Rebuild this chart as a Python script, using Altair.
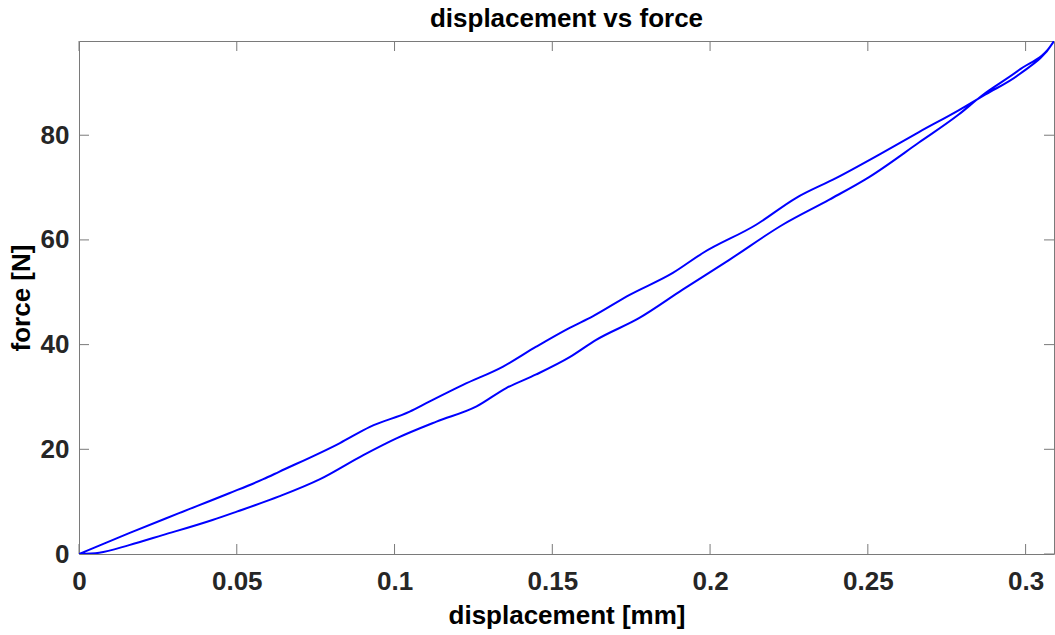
import altair as alt
import pandas as pd

# loading branch (lower curve), increasing displacement
load_x = [0, 0.0064, 0.0159, 0.0265, 0.0423, 0.05, 0.0634, 0.0764, 0.0901, 0.1006,
          0.1133, 0.126, 0.1354, 0.1449, 0.1555, 0.1639, 0.1776, 0.1913, 0.2061,
          0.223, 0.2378, 0.2504, 0.2662, 0.2789, 0.286, 0.2978, 0.309]
load_y = [0, 0.25, 1.7, 3.6, 6.5, 8.1, 11.0, 14.3, 18.9, 22.1,
          25.3, 28.2, 31.7, 34.3, 37.6, 40.9, 45.1, 50.5, 56.2,
          62.9, 67.7, 72.0, 78.6, 84.0, 87.5, 92.4, 98.0]

# unloading branch (upper curve), listed with increasing displacement
unload_x = [0, 0.0159, 0.0317, 0.0476, 0.0584, 0.0634, 0.0827, 0.0922, 0.1048, 0.111,
            0.1217, 0.1344, 0.1449, 0.1555, 0.1628, 0.1745, 0.1882, 0.1977, 0.2146,
            0.2272, 0.2399, 0.2536, 0.2662, 0.2789, 0.2873, 0.2979, 0.309]
unload_y = [0, 4.0, 7.8, 11.6, 14.3, 15.7, 21.2, 24.3, 27.2, 29.1,
            32.3, 35.8, 39.6, 43.2, 45.4, 49.5, 53.7, 57.5, 62.9,
            68.0, 71.8, 76.3, 80.6, 84.8, 87.8, 91.6, 98.0]

x_ticks = [0, 0.05, 0.1, 0.15, 0.2, 0.25, 0.3]
y_ticks = [0, 20, 40, 60, 80]

X_MAX = 0.309
Y_MAX = 98

W, H = 975, 513
FONT = "Liberation Sans"

rows = []
i = 0
for x, y in zip(load_x, load_y):
    rows.append({"d": x, "f": y, "o": i}); i += 1
for x, y in zip(reversed(unload_x), reversed(unload_y)):
    rows.append({"d": x, "f": y, "o": i}); i += 1
df = pd.DataFrame(rows)

xs = alt.Scale(domain=[0, X_MAX], nice=False, zero=False)
ys = alt.Scale(domain=[0, Y_MAX], nice=False, zero=False)

line = alt.Chart(df).mark_line(color="#0000ff", strokeWidth=2, clip=True,
                               interpolate="monotone").encode(
    x=alt.X("d:Q", scale=xs, title="displacement [mm]",
            axis=alt.Axis(values=x_ticks, format="~g", grid=False, domain=False,
                          ticks=False, tickSize=0, labelPadding=14, labelFlush=False,
                          titleY=69, titleBaseline="alphabetic")),
    y=alt.Y("f:Q", scale=ys, title="force [N]",
            axis=alt.Axis(values=y_ticks, grid=False, domain=False,
                          ticks=False, tickSize=0, labelPadding=10, labelFlush=False,
                          titleX=-50, titleBaseline="alphabetic")),
    order="o:Q",
)

xt = pd.DataFrame({"t": x_ticks})
yt = pd.DataFrame({"t": y_ticks})
tick_col = "#7a7a7a"

xb = alt.Chart(xt).mark_rule(color=tick_col, strokeWidth=1).encode(
    x=alt.X("t:Q", scale=xs), y=alt.value(H), y2=alt.value(H - 10))
xtop = alt.Chart(xt).mark_rule(color=tick_col, strokeWidth=1).encode(
    x=alt.X("t:Q", scale=xs), y=alt.value(0), y2=alt.value(10))
yl = alt.Chart(yt).mark_rule(color=tick_col, strokeWidth=1).encode(
    y=alt.Y("t:Q", scale=ys), x=alt.value(0), x2=alt.value(10))
yr = alt.Chart(yt).mark_rule(color=tick_col, strokeWidth=1).encode(
    y=alt.Y("t:Q", scale=ys), x=alt.value(W), x2=alt.value(W - 10))

chart = alt.layer(xb, xtop, yl, yr, line).properties(
    width=W, height=H,
    background="white",
    title=alt.TitleParams("displacement vs force", fontSize=26, font=FONT,
                          fontWeight="bold", color="#000000", anchor="middle",
                          offset=9),
    autosize=alt.AutoSizeParams(type="none"),
    padding={"left": 79, "top": 41, "right": 1, "bottom": 81},
).configure_view(
    stroke=tick_col, strokeWidth=1
).configure_axis(
    labelFont=FONT, labelFontSize=26, labelFontWeight="bold", labelColor="#262626",
    titleFont=FONT, titleFontSize=26, titleFontWeight="bold", titleColor="#000000",
)

chart.save("out.html", embed_options={"renderer": "svg", "actions": False})
